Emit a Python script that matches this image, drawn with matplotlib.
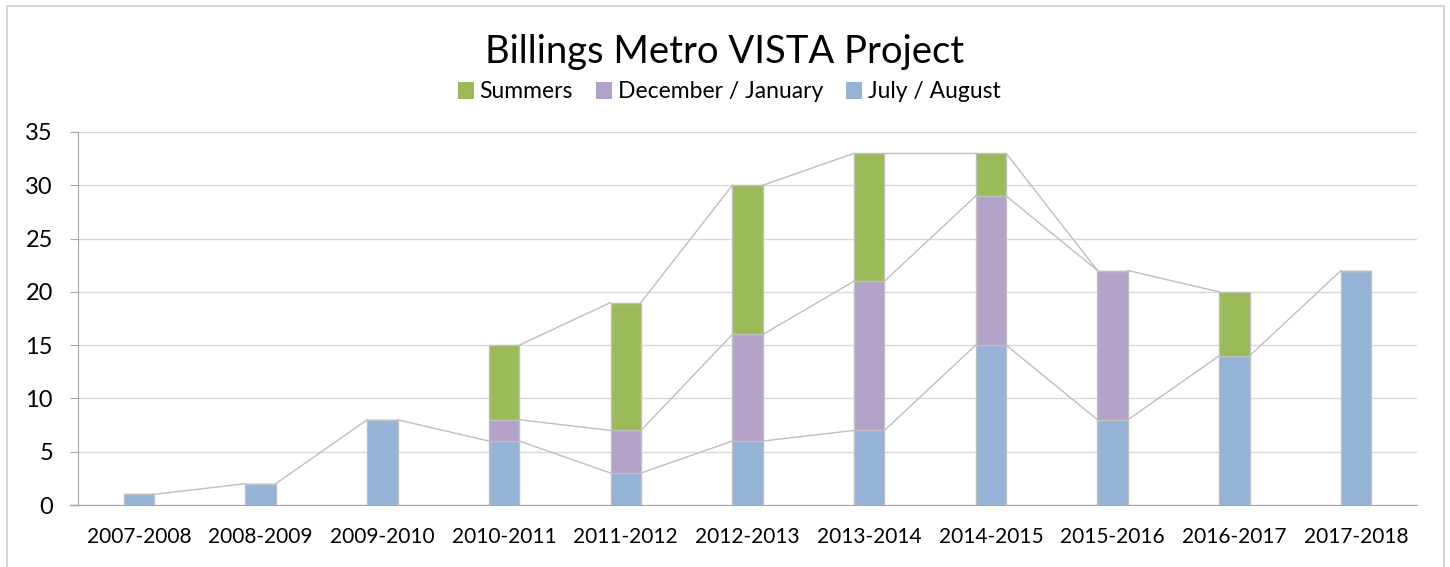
import numpy as np
import matplotlib
matplotlib.use("Agg")
import matplotlib.pyplot as plt
from matplotlib.patches import Rectangle, Patch

plt.rcParams['font.family'] = ['Lato', 'DejaVu Sans']

categories = ["2007-2008", "2008-2009", "2009-2010", "2010-2011", "2011-2012",
              "2012-2013", "2013-2014", "2014-2015", "2015-2016", "2016-2017", "2017-2018"]
july_august = [1, 2, 8, 6, 3, 6, 7, 15, 8, 14, 22]
dec_jan = [np.nan, np.nan, np.nan, 2, 4, 10, 14, 14, 14, np.nan, np.nan]
summers = [np.nan, np.nan, np.nan, 7, 12, 14, 12, 4, 0, 6, np.nan]
series_names = ["July / August", "December / January", "Summers"]
colors = ["#95B3D7", "#B3A2C7", "#9BBB59"]

title = "Billings Metro VISTA Project"
yticks = [0, 5, 10, 15, 20, 25, 30, 35]

fig = plt.figure(figsize=(14.5, 5.67), dpi=100)
ax = fig.add_axes([78/1450, 1-505/567, (1417-78)/1450, (505-132)/567])

x = np.arange(len(categories))
w = 0.25
series = [np.array(july_august, float), np.array(dec_jan, float), np.array(summers, float)]
bottom = np.zeros(len(categories))
tops = []
for vals, c in zip(series, colors):
    v = np.nan_to_num(vals)
    ax.bar(x, v, w, bottom=bottom, color=c, edgecolor="#BFBFBF", linewidth=1.0, zorder=3)
    bottom = bottom + v
    tops.append(bottom.copy())

# series lines
for vals, top in zip(series, tops):
    for i in range(len(categories) - 1):
        if not np.isnan(vals[i]) and not np.isnan(vals[i + 1]):
            ax.plot([x[i] + w/2, x[i+1] - w/2], [top[i], top[i+1]],
                    color="#BFBFBF", linewidth=1.0, zorder=2)

ax.set_xlim(-0.5, len(categories) - 0.5)
ax.set_ylim(0, 35)
ax.set_yticks(yticks)
ax.set_xticks(x)
ax.set_xticklabels(categories)
ax.grid(axis='y', color="#D9D9D9", linewidth=1.0, zorder=0)
ax.set_axisbelow(True)
for s in ['top', 'right']:
    ax.spines[s].set_visible(False)
ax.spines['left'].set_color("#A6A6A6")
ax.spines['bottom'].set_color("#A6A6A6")
ax.spines['bottom'].set_zorder(4)
ax.tick_params(axis='y', length=6, color="#A6A6A6", labelsize=17, pad=12)
ax.tick_params(axis='x', length=0, labelsize=15, pad=16)
# extend x-axis line to the left like Excel
ax.plot([-0.5 - 8/122, -0.5], [0, 0], color="#A6A6A6", lw=1, clip_on=False, zorder=4)

fig.text(725/1450, 1-52/567, title, ha='center', va='center', fontsize=27.5)
handles = [Patch(facecolor=colors[2], edgecolor='none'),
           Patch(facecolor=colors[1], edgecolor='none'),
           Patch(facecolor=colors[0], edgecolor='none')]
labels = [series_names[2], series_names[1], series_names[0]]
fig.legend(handles, labels, loc='center', bbox_to_anchor=(729/1450, 1-92/567), ncol=3,
           frameon=False, fontsize=16.5, handlelength=0.7, handleheight=0.7,
           handletextpad=0.25, columnspacing=1.0, borderaxespad=0)

fig.patches.append(Rectangle((7/1450, -0.05), (1444-7)/1450, 1.05 - 6/567, transform=fig.transFigure,
                             fill=False, edgecolor="#D0D0D0", linewidth=1.2))

fig.savefig("out.png", dpi=100)
